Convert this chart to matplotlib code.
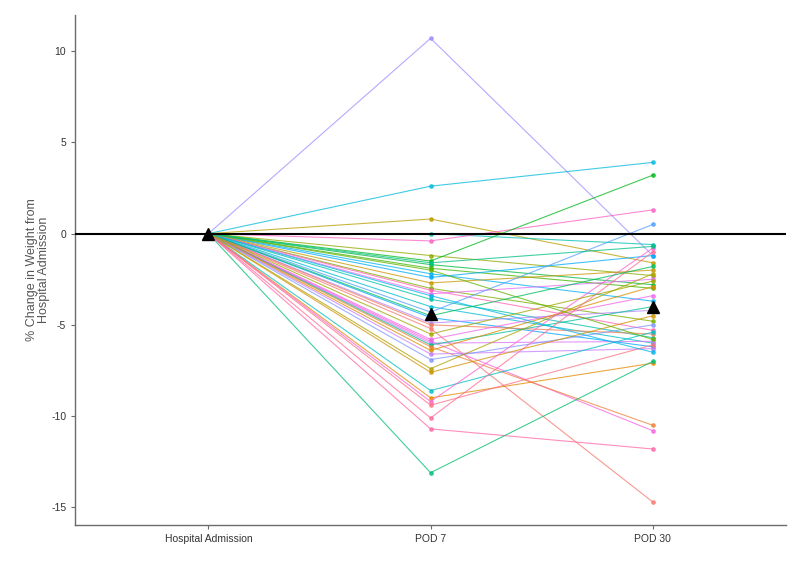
import numpy as np
import matplotlib
matplotlib.use("Agg")
import matplotlib.pyplot as plt

plt.rcParams["font.family"] = ["Liberation Sans", "DejaVu Sans"]
plt.rcParams["axes.unicode_minus"] = False

timepoints = ["Hospital Admission", "POD 7", "POD 30"]

# one entry per patient: id (colour factor), % change at POD 7 and POD 30
subject_id = [31, 24, 7, 21, 39, 10, 14, 15, 13, 26, 27, 6, 11, 40, 35,
              20, 23, 29, 28, 32, 1, 0, 36, 37, 34, 19, 2, 4, 33, 30,
              8, 5, 22, 3, 38, 43, 42, 41, 17, 25, 12, 16, 9, 18]
pod7 = [10.7, 2.6, 0.8, 0.0, -0.4, -1.2, -1.5, -1.7, -1.9, -2.2, -2.4, -2.7,
        -3.0, -3.1, -3.3, -3.6, -4.0, -4.3, -4.6, -4.9, -5.0, -5.2, -5.8,
        -5.9, -6.0, -6.1, -6.2, -6.4, -6.6, -6.9, -7.4, -7.6, -8.6, -9.0,
        -9.2, -9.4, -10.1, -10.7, -13.1, -3.4, -2.0, -4.5, -5.5, -1.6]
pod30 = [-1.2, 3.9, -1.6, -0.6, 1.3, -2.3, 3.2, -2.8, -3.0, -3.7, -1.2, -2.0,
         -4.8, -5.3, -2.5, -5.7, -6.0, 0.5, -6.2, -4.2, -5.5, -14.7, -3.4,
         -10.8, -5.9, -4.0, -10.5, -2.9, -6.3, -5.0, -2.2, -4.5, -5.4, -7.1,
         -0.8, -6.1, -1.0, -11.8, -7.0, -6.5, -5.8, -1.8, -2.6, -0.7]
admission = [0.0] * len(pod7)


def hue_pal(n, l=65, c=100):
    # ggplot2-style HCL hue palette
    hues = np.linspace(15, 375, n + 1)[:-1]
    out = []
    un, vn = 0.1978398, 0.4683363
    for h in hues:
        u = c * np.cos(np.radians(h))
        v = c * np.sin(np.radians(h))
        Y = ((l + 16) / 116) ** 3
        up = u / (13 * l) + un
        vp = v / (13 * l) + vn
        X = Y * 9 * up / (4 * vp)
        Z = Y * (12 - 3 * up - 20 * vp) / (4 * vp)
        M = np.array([[3.2406, -1.5372, -0.4986],
                      [-0.9689, 1.8758, 0.0415],
                      [0.0557, -0.2040, 1.0570]])
        rgb = M @ np.array([X, Y, Z])
        rgb = np.clip(rgb, 0, 1)
        rgb = np.where(rgb <= 0.0031308, 12.92 * rgb,
                       1.055 * rgb ** (1 / 2.4) - 0.055)
        out.append(tuple(np.clip(rgb, 0, 1)))
    return out


palette = hue_pal(len(subject_id))

fig = plt.figure(figsize=(8, 5.61), dpi=100)
ax = fig.add_axes([0.094, 0.064, 0.8885, 0.909])

xs = np.arange(len(timepoints))
for sid, a, b, c in zip(subject_id, admission, pod7, pod30):
    ax.plot(xs, [a, b, c], color=palette[sid], lw=0.8, alpha=0.75,
            marker="o", markersize=2.4, zorder=2)

ax.axhline(0, color="black", lw=1.5, zorder=3)

means = [np.mean(admission), np.mean(pod7), np.mean(pod30)]
ax.plot(xs, means, linestyle="none", marker="^", color="black",
        markersize=9, zorder=4)

ax.set_xlim(-0.6, 2.6)
ax.set_ylim(-15.97, 11.97)
ax.set_xticks(xs)
ax.set_xticklabels(timepoints)
ax.set_yticks([-15, -10, -5, 0, 5, 10])

for side in ["top", "right"]:
    ax.spines[side].set_visible(False)
for side in ["left", "bottom"]:
    ax.spines[side].set_color("#6b6b6b")
    ax.spines[side].set_linewidth(1.0)
ax.tick_params(axis="both", colors="#6b6b6b", length=3, width=0.8,
               labelsize=7.5, labelcolor="#333333")

ax.set_ylabel("% Change in Weight from\nHospital Admission", fontsize=9,
              color="#555555", linespacing=1.0, labelpad=1)

fig.savefig("out.png", dpi=100)
